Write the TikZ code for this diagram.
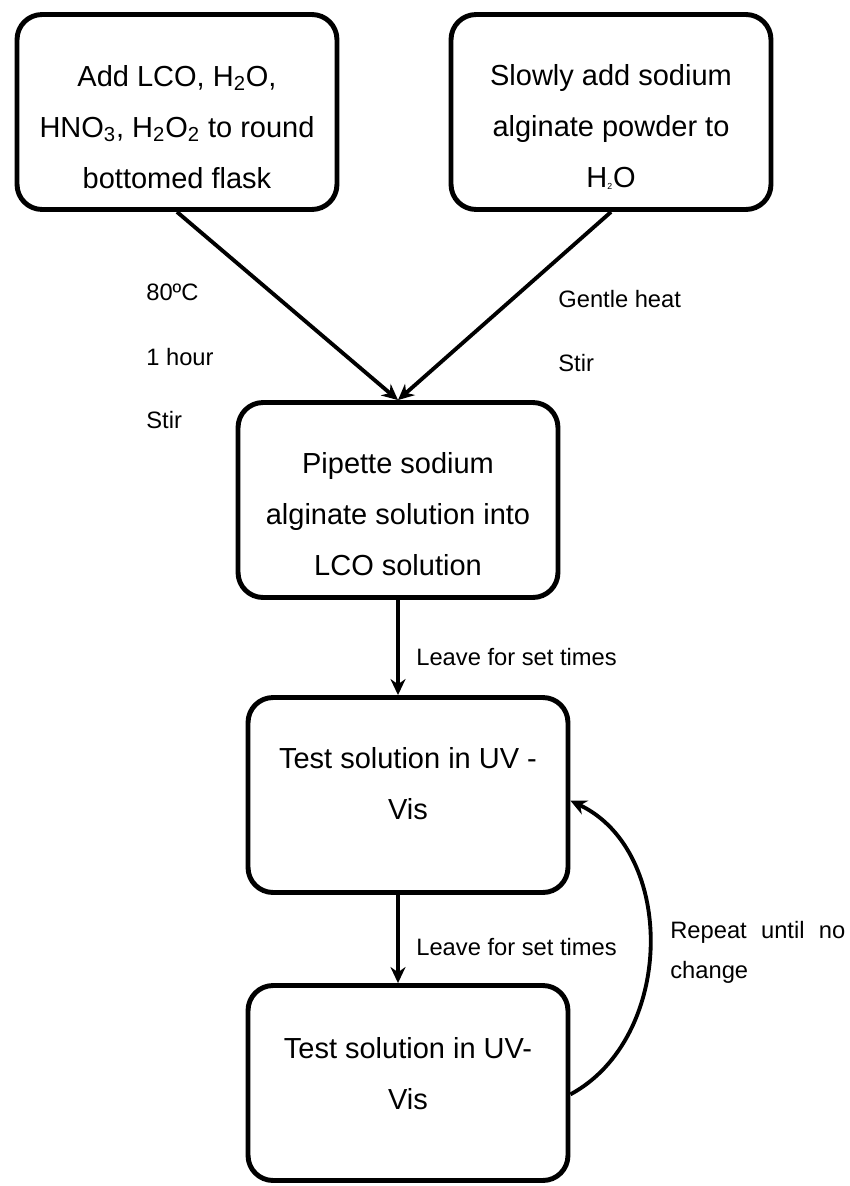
\documentclass[tikz,border=0pt]{standalone}
\usepackage{fontspec}
\setmainfont{Liberation Sans}
\usetikzlibrary{arrows.meta}

\begin{document}
\begin{tikzpicture}[x=0.02cm,y=-0.02cm,
  stage/.style={draw,line width=2.8pt,rounded corners=0.5cm,minimum width=6.4cm,minimum height=3.9cm,inner sep=0pt},
  txt/.style={align=center,inner sep=0pt,font=\fontsize{16.5}{29}\selectfont},
  e/.style={-{Stealth[length=3.2mm,width=3mm]},line width=2.2pt},
  lbl/.style={font=\fontsize{13.5}{22.8}\selectfont,anchor=west,inner sep=0pt}]
  \useasboundingbox (0,0) rectangle (849,1186);
  % boxes
  \node[stage] (add) at (177,112) {};
  \node[stage] (alg) at (611,112) {};
  \node[stage] (pip) at (398,500) {};
  \node[stage] (uv1) at (408,795) {};
  \node[stage] (uv2) at (408,1083) {};
  \node[txt] (addtxt) at (177,127) {Add LCO, H\textsubscript{2}O,\\HNO\textsubscript{3}, H\textsubscript{2}O\textsubscript{2} to round\\bottomed flask};
  \node[txt] (algtxt) at (611,127) {Slowly add sodium\\alginate powder to\\H{\scriptsize\textsubscript{2}}O};
  \node[txt] (piptxt) at (398,514) {Pipette sodium\\alginate solution into\\LCO solution};
  \node[txt] (uv1txt) at (408,784) {Test solution in UV -\\Vis};
  \node[txt] (uv2txt) at (408,1074) {Test solution in UV-\\Vis};
  % conditions
  \node[lbl] (temp) at (146,292) {80ºC};
  \node[lbl] (hour) at (146,357) {1 hour};
  \node[lbl] (stirA) at (146,420) {Stir};
  \node[lbl] (heat) at (558,299) {Gentle heat};
  \node[lbl] (stirB) at (558,363) {Stir};
  \node[lbl] (leave1) at (416,657) {Leave for set times};
  \node[lbl] (leave2) at (416,947) {Leave for set times};
  \node[lbl,text width=3.5cm,align=justify] (rep) at (670,952) {Repeat until no change};
  \draw[e] (add.south) -- (pip.north);
  \draw[e] (alg.south) -- (pip.north);
  \draw[e] (pip.south) -- (pip.south |- uv1.north);
  \draw[e] (pip.south |- uv1.south) -- (pip.south |- uv2.north);
  \draw[e] (uv2.-4) .. controls (675,1038) and (677,851) .. (uv1.-2);
\end{tikzpicture}
\end{document}
